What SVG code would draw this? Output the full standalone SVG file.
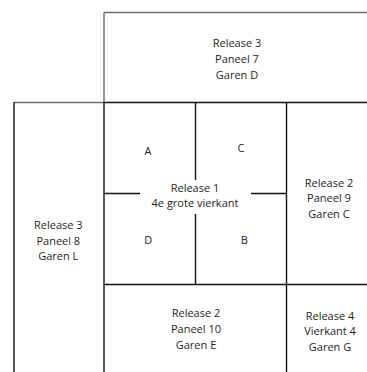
<svg xmlns="http://www.w3.org/2000/svg" width="367" height="372" viewBox="0 0 367 372">
  <style>
    .t { font-family: "Open Sans", "Liberation Sans", sans-serif; font-size: 11px; fill: #231f20; text-anchor: middle; }
    .g { stroke: #6d6d6d; stroke-width: 1.4; fill: none; }
    .k { stroke: #111; stroke-width: 1.4; fill: none; }
  </style>
  <rect width="367" height="372" fill="#fff"/>
  <g id="connectors">
    <path class="g" d="M104,12.5 H367 M104,12.5 V102.5 M14,102.5 H104"/>
    <path class="k" d="M104,102.5 H367 M14,102 V372 M104,102 V372 M195.5,102.5 V180 M195.5,214 V284.5 M286.5,102.5 V372 M104,193.5 H140 M251,193.5 H286.5 M104,284.5 H367"/>
  </g>
  <g id="paneel7">
    <text class="t" x="237" y="47.3">Release 3</text>
    <text class="t" x="237" y="63">Paneel 7</text>
    <text class="t" x="237" y="78.5">Garen D</text>
  </g>
  <g id="release1">
    <text class="t" x="195" y="191.7">Release 1</text>
    <text class="t" x="195" y="207.3">4e grote vierkant</text>
  </g>
  <g id="quadA"><text class="t" x="148" y="155">A</text></g>
  <g id="quadC"><text class="t" x="241" y="152">C</text></g>
  <g id="quadD"><text class="t" x="148.3" y="244.3">D</text></g>
  <g id="quadB"><text class="t" x="244.3" y="244.3">B</text></g>
  <g id="paneel9">
    <text class="t" x="329" y="186.7">Release 2</text>
    <text class="t" x="329" y="202.3">Paneel 9</text>
    <text class="t" x="329" y="218">Garen C</text>
  </g>
  <g id="paneel8">
    <text class="t" x="58.3" y="229">Release 3</text>
    <text class="t" x="58.3" y="244.5">Paneel 8</text>
    <text class="t" x="58.3" y="260">Garen L</text>
  </g>
  <g id="paneel10">
    <text class="t" x="196" y="317.3">Release 2</text>
    <text class="t" x="196" y="333">Paneel 10</text>
    <text class="t" x="196" y="348.5">Garen E</text>
  </g>
  <g id="vierkant4">
    <text class="t" x="330" y="319.5">Release 4</text>
    <text class="t" x="330" y="335">Vierkant 4</text>
    <text class="t" x="330" y="350.5">Garen G</text>
  </g>
</svg>
